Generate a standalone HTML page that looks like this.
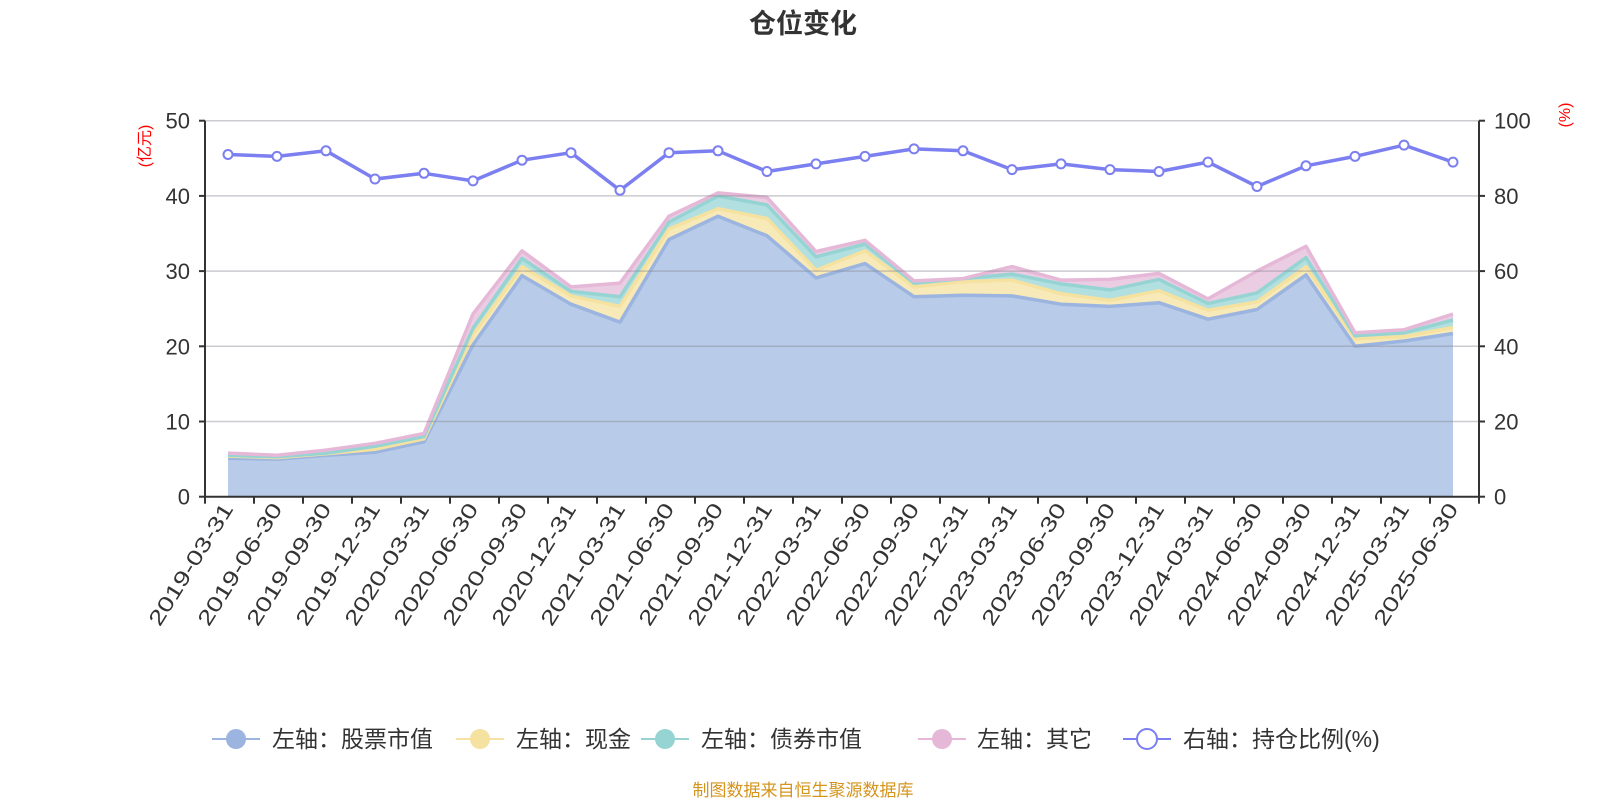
<!DOCTYPE html>
<html><head><meta charset="utf-8"><style>
html,body{margin:0;padding:0;background:#fff;}
svg{display:block;font-family:"Liberation Sans","Noto Sans CJK SC",sans-serif;}
</style></head><body>
<svg id="c" width="1600" height="800" xmlns="http://www.w3.org/2000/svg"></svg>
<script>
const L=205,R=1479,T=120.7,B=496.7;
const ratio=[91,90.5,92,84.5,86,84,89.5,91.5,81.5,91.5,92,86.5,88.5,90.5,92.5,92,87,88.5,87,86.5,89,82.5,88,90.5,93.5,89];
const s1=[5.1,5.0,5.5,5.9,7.3,20.2,29.4,25.6,23.2,34.2,37.3,34.7,29.1,31.0,26.6,26.8,26.7,25.6,25.3,25.8,23.6,24.9,29.5,20.0,20.7,21.7];
const s2=[5.4,5.2,5.7,6.3,7.7,21.5,30.6,26.7,25.3,35.6,38.3,37.0,30.1,32.7,27.9,28.6,28.8,27.0,26.1,27.4,24.8,25.9,30.6,21.0,21.3,22.5];
const s3=[5.5,5.3,5.8,6.7,8.0,22.4,31.7,27.3,26.6,36.5,40.0,38.8,31.9,33.6,28.4,29.0,29.6,28.3,27.5,28.9,25.7,27.1,31.8,21.4,21.8,23.5];
const s4=[5.8,5.5,6.2,7.1,8.4,24.3,32.7,27.9,28.4,37.3,40.4,39.8,32.6,34.1,28.7,29.0,30.6,28.8,28.9,29.7,26.3,30.0,33.3,21.8,22.2,24.3];
const dates=["2019-03-31","2019-06-30","2019-09-30","2019-12-31","2020-03-31","2020-06-30","2020-09-30","2020-12-31","2021-03-31","2021-06-30","2021-09-30","2021-12-31","2022-03-31","2022-06-30","2022-09-30","2022-12-31","2023-03-31","2023-06-30","2023-09-30","2023-12-31","2024-03-31","2024-06-30","2024-09-30","2024-12-31","2025-03-31","2025-06-30"];
const X=i=>228+49*i, Y=v=>B-(B-T)*v/50, Y2=v=>B-(B-T)*v/100;
let h='';
h+=`<text x="803" y="33" text-anchor="middle" font-size="27" font-weight="bold" fill="#333">仓位变化</text>`;
function pts(a){return a.map((v,i)=>X(i)+','+Y(v).toFixed(1)).join(' ');}
function rev(a){return a.map((v,i)=>X(i)+','+Y(v).toFixed(1)).reverse().join(' ');}
const zero=s1.map(()=>0);
const layers=[[s4,s3,'#ebcde3','#e6b8d8'],[s3,s2,'#b2dfe0','#96d4d4'],[s2,s1,'#f8eab8','#f5e1a0'],[s1,zero,'#b8cbe8','#9bb4e0']];
for(const [top,bot,f,l] of layers){
  h+=`<polygon points="${pts(top)} ${rev(bot)}" fill="${f}"/>`;
}
for(const [top,bot,f,l] of layers.slice().reverse()){
  h+=`<polyline points="${pts(top)}" fill="none" stroke="${l}" stroke-width="3.5" stroke-linejoin="round"/>`;
}
for(let k=0;k<=5;k++){const y=Y(k*10);h+=`<line x1="${L}" x2="${R}" y1="${y}" y2="${y}" stroke="rgba(140,140,150,0.45)" stroke-width="1.5"/>`;}
h+=`<line x1="${L}" x2="${L}" y1="${T}" y2="${B}" stroke="#333" stroke-width="2"/>`;
h+=`<line x1="${R}" x2="${R}" y1="${T}" y2="${B}" stroke="#333" stroke-width="2"/>`;
h+=`<line x1="${L}" x2="${R}" y1="${B}" y2="${B}" stroke="#333" stroke-width="2"/>`;
for(let k=0;k<=5;k++){const y=Y(k*10);
  h+=`<line x1="${L-6}" x2="${L}" y1="${y}" y2="${y}" stroke="#333" stroke-width="2"/>`;
  h+=`<line x1="${R}" x2="${R+6}" y1="${y}" y2="${y}" stroke="#333" stroke-width="2"/>`;
  h+=`<text x="190" y="${y+8}" text-anchor="end" font-size="22" fill="#333">${k*10}</text>`;
  h+=`<text x="1494" y="${y+8}" font-size="22" fill="#333">${k*20}</text>`;
}
for(let i=0;i<=26;i++){const x=L+49*i;h+=`<line x1="${x}" x2="${x}" y1="${B}" y2="${B+7}" stroke="#333" stroke-width="2"/>`;}
dates.forEach((d,i)=>{const x=X(i)+6,y=B+12;
  h+=`<text transform="translate(${x},${y}) rotate(-58)" text-anchor="end" font-size="21" textLength="140" lengthAdjust="spacingAndGlyphs" fill="#333">${d}</text>`;});
h+=`<text transform="translate(150,146) rotate(-90)" text-anchor="middle" font-size="16" fill="#f00">(亿元)</text>`;
h+=`<text transform="translate(1570,115) rotate(-90)" text-anchor="middle" font-size="16" fill="#f00">(%)</text>`;
h+=`<polyline points="${ratio.map((v,i)=>X(i)+','+Y2(v).toFixed(1)).join(' ')}" fill="none" stroke="#7b7ff0" stroke-width="3.5" stroke-linejoin="round"/>`;
ratio.forEach((v,i)=>{h+=`<circle cx="${X(i)}" cy="${Y2(v).toFixed(1)}" r="4.5" fill="#fff" stroke="#7b7ff0" stroke-width="2"/>`;});
const lg=[[236,272,'#9bb4e0','左轴：股票市值',1],[480,516,'#f5e1a0','左轴：现金',1],[665,701,'#96d4d4','左轴：债券市值',1],[942,977,'#e6b8d8','左轴：其它',1],[1147,1183,'#7b7ff0','右轴：持仓比例(%)',0]];
const ly=739;
for(const [cx,tx,c,t,fill] of lg){
  h+=`<line x1="${cx-24}" x2="${cx+24}" y1="${ly}" y2="${ly}" stroke="${c}" stroke-width="2"/>`;
  h+= fill?`<circle cx="${cx}" cy="${ly}" r="10" fill="${c}"/>`:`<circle cx="${cx}" cy="${ly}" r="10" fill="#fff" stroke="${c}" stroke-width="2"/>`;
  h+=`<text x="${tx}" y="${ly+8}" font-size="23" fill="#333">${t}</text>`;
}
h+=`<text x="803" y="796" text-anchor="middle" font-size="17" fill="#d4951d">制图数据来自恒生聚源数据库</text>`;
document.getElementById('c').innerHTML=h;
</script>
</body></html>
